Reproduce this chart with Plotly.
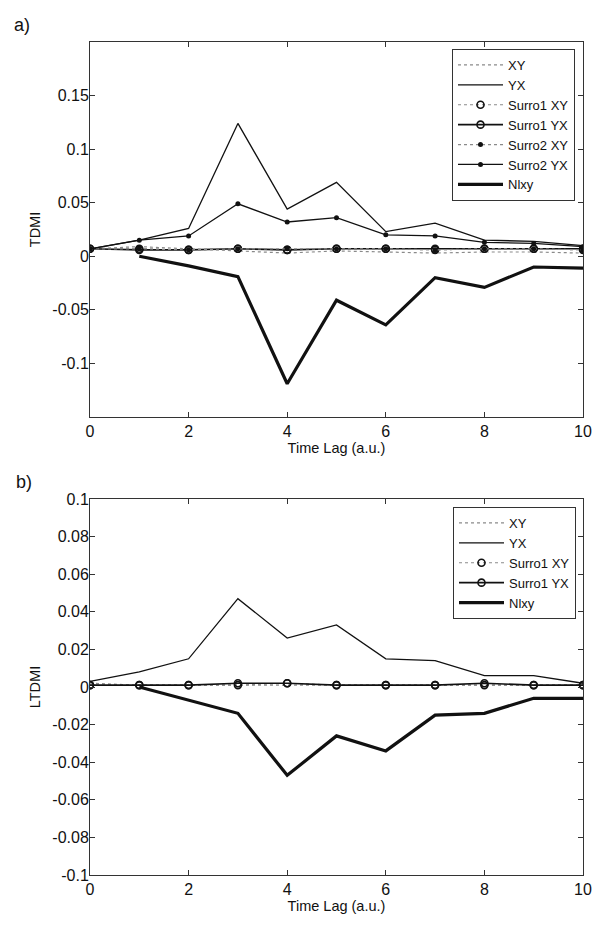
import plotly.graph_objects as go

lags = [0, 1, 2, 3, 4, 5, 6, 7, 8, 9, 10]

# Panel a) TDMI
a_xy = [0.007, 0.009, 0.007, 0.005, 0.003, 0.005, 0.004, 0.003, 0.004, 0.004, 0.003]
a_yx = [0.007, 0.015, 0.026, 0.124, 0.044, 0.069, 0.023, 0.031, 0.015, 0.014, 0.010]
a_s1xy = [0.007, 0.007, 0.006, 0.007, 0.006, 0.007, 0.007, 0.006, 0.007, 0.007, 0.006]
a_s1yx = [0.007, 0.006, 0.006, 0.007, 0.006, 0.007, 0.007, 0.007, 0.007, 0.007, 0.007]
a_s2xy = [0.007, 0.007, 0.006, 0.007, 0.007, 0.007, 0.007, 0.006, 0.007, 0.007, 0.006]
a_s2yx = [0.007, 0.015, 0.019, 0.049, 0.032, 0.036, 0.020, 0.019, 0.013, 0.012, 0.009]
a_nlxy = [None, 0.0, -0.009, -0.019, -0.119, -0.041, -0.064, -0.020, -0.029, -0.010, -0.011]

# Panel b) LTDMI
b_xy = [0.002, 0.001, 0.001, 0.001, 0.001, 0.001, 0.001, 0.001, 0.001, 0.001, 0.001]
b_yx = [0.003, 0.008, 0.015, 0.047, 0.026, 0.033, 0.015, 0.014, 0.006, 0.006, 0.002]
b_s1xy = [0.001, 0.001, 0.001, 0.001, 0.002, 0.001, 0.001, 0.001, 0.001, 0.001, 0.001]
b_s1yx = [0.001, 0.001, 0.001, 0.002, 0.002, 0.001, 0.001, 0.001, 0.002, 0.001, 0.001]
b_nlxy = [None, 0.0, -0.007, -0.014, -0.047, -0.026, -0.034, -0.015, -0.014, -0.006, -0.006]

a_yticks = [-0.1, -0.05, 0, 0.05, 0.1, 0.15]
a_yticktext = ["-0.1", "-0.05", "0", "0.05", "0.1", "0.15"]
b_yticks = [-0.1, -0.08, -0.06, -0.04, -0.02, 0, 0.02, 0.04, 0.06, 0.08, 0.1]
b_yticktext = ["-0.1", "-0.08", "-0.06", "-0.04", "-0.02", "0", "0.02", "0.04", "0.06", "0.08", "0.1"]
xticks = [0, 2, 4, 6, 8, 10]

FONT = "Liberation Sans, Arial, sans-serif"
BLACK = "#111111"
GRAY = "#8a8a8a"

fig = go.Figure()

def add(x, y, name, xa, ya, leg, color, dash, width, marker=None):
    kw = dict(x=x, y=y, name=name, xaxis=xa, yaxis=ya, legend=leg,
              line=dict(color=color, dash=dash, width=width))
    if marker == "o":
        kw["mode"] = "lines+markers"
        kw["marker"] = dict(symbol="circle-open", size=7, color=BLACK,
                            line=dict(width=1.6, color=BLACK))
    elif marker == ".":
        kw["mode"] = "lines+markers"
        kw["marker"] = dict(symbol="circle", size=5, color=BLACK)
    else:
        kw["mode"] = "lines"
    fig.add_trace(go.Scatter(**kw))

# panel a
add(lags, a_xy, "XY", "x", "y", "legend", GRAY, "dot", 1.2)
add(lags, a_yx, "YX", "x", "y", "legend", BLACK, "solid", 1.3)
add(lags, a_s1xy, "Surro1 XY", "x", "y", "legend", GRAY, "dot", 1.2, "o")
add(lags, a_s1yx, "Surro1 YX", "x", "y", "legend", BLACK, "solid", 1.6, "o")
add(lags, a_s2xy, "Surro2 XY", "x", "y", "legend", GRAY, "dot", 1.2, ".")
add(lags, a_s2yx, "Surro2 YX", "x", "y", "legend", BLACK, "solid", 1.3, ".")
add(lags, a_nlxy, "Nlxy", "x", "y", "legend", BLACK, "solid", 3.2)

# panel b
add(lags, b_xy, "XY", "x2", "y2", "legend2", GRAY, "dot", 1.2)
add(lags, b_yx, "YX", "x2", "y2", "legend2", BLACK, "solid", 1.3)
add(lags, b_s1xy, "Surro1 XY", "x2", "y2", "legend2", GRAY, "dot", 1.2, "o")
add(lags, b_s1yx, "Surro1 YX", "x2", "y2", "legend2", BLACK, "solid", 1.6, "o")
add(lags, b_nlxy, "Nlxy", "x2", "y2", "legend2", BLACK, "solid", 3.2)

W, H = 602, 927
xdom = [90 / W, 583 / W]
ydom_a = [1 - 417 / H, 1 - 42 / H]
ydom_b = [1 - 875 / H, 1 - 499 / H]

axis_common = dict(showline=True, linecolor="#333333", linewidth=1, mirror="ticks",
                   ticks="inside", ticklen=5, tickcolor="#333333", showgrid=False,
                   zeroline=False, automargin=False,
                   tickfont=dict(family=FONT, size=16, color=BLACK))

legend_common = dict(xanchor="right", yanchor="top", bgcolor="white",
                     bordercolor="#333333", borderwidth=1,
                     font=dict(family=FONT, size=13, color=BLACK),
                     itemwidth=45, tracegroupgap=0)

fig.update_layout(
    template="none",
    width=W, height=H,
    margin=dict(l=0, r=0, t=0, b=0, autoexpand=False),
    paper_bgcolor="white", plot_bgcolor="white",
    font=dict(family=FONT, color=BLACK),
    xaxis=dict(domain=xdom, anchor="y", range=[0, 10], tickvals=xticks,
               title=dict(text="Time Lag (a.u.)", font=dict(family=FONT, size=14.5), standoff=2),
               **axis_common),
    yaxis=dict(domain=ydom_a, anchor="x", range=[-0.15, 0.2], tickvals=a_yticks,
               ticktext=a_yticktext, ticklabelstandoff=-3,
               title=dict(text="TDMI", font=dict(family=FONT, size=14.5), standoff=8),
               **axis_common),
    xaxis2=dict(domain=xdom, anchor="y2", range=[0, 10], tickvals=xticks,
                title=dict(text="Time Lag (a.u.)", font=dict(family=FONT, size=14.5), standoff=2),
                **axis_common),
    yaxis2=dict(domain=ydom_b, anchor="x2", range=[-0.1, 0.1], tickvals=b_yticks,
                ticktext=b_yticktext, ticklabelstandoff=-3,
                title=dict(text="LTDMI", font=dict(family=FONT, size=14.5), standoff=8),
                **axis_common),
    legend=dict(x=575 / W, y=1 - 49 / H, **legend_common),
    legend2=dict(x=576 / W, y=1 - 507 / H, **legend_common),
    annotations=[
        dict(text="a)", x=12 / W, y=1 - 25 / H, xref="paper", yref="paper",
             xanchor="left", yanchor="middle", showarrow=False,
             font=dict(family=FONT, size=18, color=BLACK)),
        dict(text="b)", x=14 / W, y=1 - 482 / H, xref="paper", yref="paper",
             xanchor="left", yanchor="middle", showarrow=False,
             font=dict(family=FONT, size=18, color=BLACK)),
    ],
)

fig.write_html("out.html", config={"displayModeBar": False},
               post_script="document.body.style.margin='0';document.body.style.padding='0';")
